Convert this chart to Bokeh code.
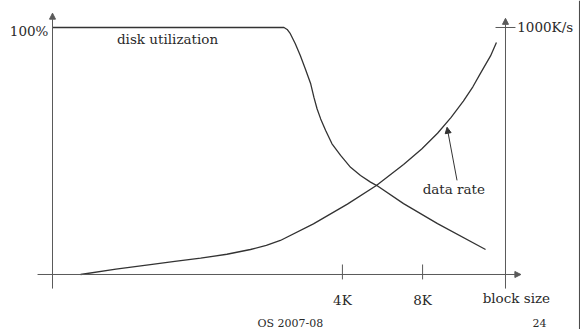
from bokeh.plotting import figure
from bokeh.models import Range1d, Arrow, NormalHead, Span
from bokeh.core.properties import value
from bokeh.embed import file_html
from bokeh.resources import INLINE

# ---- data (schematic units: block-size axis 0..100, utilization %, data rate K/s) ----
util_x = [0, 51.1, 51.8, 52.5, 53.6, 54.7, 55.8, 57.0, 57.7, 58.4, 59.2, 60.3, 61.7,
          63.6, 65.8, 68.0, 70.2, 71.6, 77.5, 85.0, 95.6]
util_pct = [100, 100, 99.2, 97.5, 93.4, 88.7, 83.3, 77.2, 71.8, 67.1, 63.0, 58.3, 52.9,
            48.2, 43.4, 40.1, 37.4, 36.0, 28.7, 20.6, 10.1]

rate_x = [6.2, 14.0, 21.6, 27.0, 32.7, 38.5, 43.7, 47.2, 50.3, 57.6, 65.1, 71.5, 77.5,
          81.5, 85.0, 88.0, 90.7, 92.8, 94.5, 96.7, 98.0]
rate_kps = [0, 22.0, 40.0, 53.0, 66.0, 82.0, 101.2, 118.0, 137.7, 205.0, 285.0, 360.3,
            445.0, 508.0, 572.0, 636.0, 702.0, 760.0, 815.0, 885.0, 939.3]

tick_x = [64.0, 81.7]
tick_labels = ["4K", "8K"]

util_max_label = "100%"
rate_max_label = "1000K/s"
rate_max = 1000

FONT = value("DejaVu Serif")
FS = "13.5px"
CURVE = "#333333"
AXIS = "#5a5a5a"
TEXT = "#2a2a2a"

p = figure(width=581, height=329, output_backend="svg", toolbar_location=None,
           x_axis_location=None, y_axis_location=None,
           x_range=Range1d(-11.48, 116.78), y_range=Range1d(-22.27, 110.93),
           min_border=0, outline_line_color=None, background_fill_color="white",
           border_fill_color="white")
p.grid.visible = False
p.extra_y_ranges = {"rate": Range1d(-222.7, 1109.3)}

# slide frame line on the right
p.add_layout(Span(location=116.33, dimension="height", line_color="#444444", line_width=1))

# axes
head = dict(size=6, fill_color=AXIS, line_color=AXIS, line_width=1)
p.add_layout(Arrow(end=NormalHead(**head), x_start=-3.3, y_start=0, x_end=103.4, y_end=0,
                   line_color=AXIS, line_width=1))
p.add_layout(Arrow(end=NormalHead(**head), x_start=0, y_start=-5.7, x_end=0, y_end=105.8,
                   line_color=AXIS, line_width=1))
p.add_layout(Arrow(end=NormalHead(**head), x_start=100, y_start=-5.7, x_end=100, y_end=103.7,
                   line_color=AXIS, line_width=1))
# 1000K/s tick on right axis
p.segment(x0=[97.8], y0=[rate_max], x1=[102.2], y1=[rate_max], y_range_name="rate",
          line_color=AXIS, line_width=1)
# block size ticks
p.segment(x0=tick_x, y0=[4.05] * len(tick_x), x1=tick_x, y1=[-2.0] * len(tick_x),
          line_color=AXIS, line_width=1)

# curves
p.line(util_x, util_pct, line_color=CURVE, line_width=1.3)
p.line(rate_x, rate_kps, y_range_name="rate", line_color=CURVE, line_width=1.3)

# pointer arrow for data rate
p.add_layout(Arrow(end=NormalHead(size=6, fill_color=CURVE, line_color=CURVE),
                   x_start=89.3, y_start=38.1, x_end=87.1, y_end=59.6,
                   line_color=CURVE, line_width=1))

# texts
p.text(x=tick_x, y=[-10.5] * len(tick_x), text=tick_labels, text_font=FONT,
       text_font_size=FS, text_align="center", text_baseline="middle", text_color=TEXT)
p.text(x=[-0.9], y=[98.4], text=[util_max_label], text_font=FONT, text_font_size=FS,
       text_align="right", text_baseline="middle", text_color=TEXT)
p.text(x=[102.6], y=[rate_max], y_range_name="rate", text=[rate_max_label], text_font=FONT,
       text_font_size=FS, text_align="left", text_baseline="middle", text_color=TEXT)
p.text(x=[25.4], y=[95.5], text=["disk utilization"], text_font=FONT, text_font_size=FS,
       text_align="center", text_baseline="middle", text_color=TEXT)
p.text(x=[88.6], y=[34.8], text=["data rate"], text_font=FONT, text_font_size=FS,
       text_align="center", text_baseline="middle", text_color=TEXT)
p.text(x=[102.4], y=[-9.7], text=["block size"], text_font=FONT, text_font_size=FS,
       text_align="center", text_baseline="middle", text_color=TEXT)
p.text(x=[52.5], y=[-19.8], text=["OS 2007-08"], text_font=FONT, text_font_size="11px",
       text_align="center", text_baseline="middle", text_color=TEXT)
p.text(x=[107.5], y=[-19.8], text=["24"], text_font=FONT, text_font_size="11px",
       text_align="center", text_baseline="middle", text_color=TEXT)

open("out.html", "w").write(file_html(p, INLINE))
